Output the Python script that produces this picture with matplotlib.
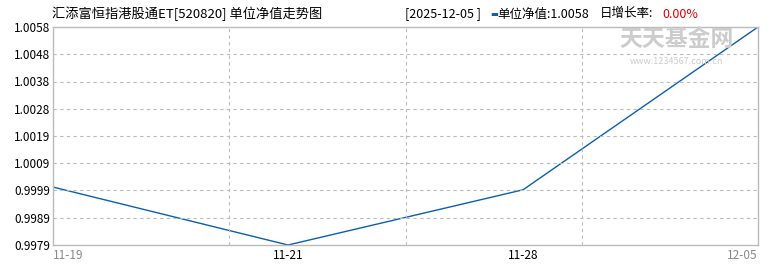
import matplotlib
matplotlib.use("Agg")
import matplotlib.pyplot as plt
import numpy as np

plt.rcParams['font.family'] = ['Noto Sans CJK SC', 'DejaVu Sans']

dates = ['11-19', '11-21', '11-28', '12-05']
nav = [1.0000, 0.9979, 0.9999, 1.0058]
date_colors = ['#888888', '#000000', '#000000', '#888888']

ymin, ymax = 0.9979, 1.0058
yticks = np.linspace(ymin, ymax, 9)

fig = plt.figure(figsize=(7.7, 2.7), dpi=100)
ax = fig.add_axes([53 / 770, 1 - 245 / 270, 705 / 770, 218 / 270])

x = np.arange(len(dates))
ax.plot(x, nav, color='#0a5fb0', linewidth=1.0)
ax.set_xlim(0, len(dates) - 1)
ax.set_ylim(ymin, ymax)

# vertical dashed grid splits plot in quarters
for gx in np.linspace(0, len(dates) - 1, 5)[1:-1]:
    ax.axvline(gx, color='#bbbbbb', linestyle=(0, (3, 3)), linewidth=0.8)
for gy in yticks[1:-1]:
    ax.axhline(gy, color='#bbbbbb', linestyle=(0, (3, 3)), linewidth=0.8)

ax.set_yticks(yticks)
ax.set_yticklabels([f'{v:.4f}' for v in yticks], fontsize=8.5)
ax.set_xticks(x)
ax.set_xticklabels(dates, fontsize=8.5)
for lbl, c in zip(ax.get_xticklabels(), date_colors):
    lbl.set_color(c)
ax.get_xticklabels()[0].set_horizontalalignment('left')
ax.get_xticklabels()[-1].set_horizontalalignment('right')
ax.tick_params(axis='both', length=0, pad=3)
ax.tick_params(axis='y', pad=2)
for s in ax.spines.values():
    s.set_color('#bbbbbb')
    s.set_linewidth(1.0)

# watermark
fig.text(676 / 770, 1 - 40 / 270, '天天基金网', fontsize=16.5, color='#cccccc',
         ha='center', va='center', fontweight='bold', zorder=0)
fig.text(676 / 770, 1 - 62 / 270, 'www.1234567.com.cn', fontsize=6.5, color='#cccccc',
         ha='center', va='center', zorder=0)

# header
fig.text(52 / 770, 1 - 14 / 270, '汇添富恒指港股通ET[520820] 单位净值走势图', fontsize=9.5,
         ha='left', va='center')
fig.text(405 / 770, 1 - 14 / 270, '[2025-12-05 ]', fontsize=9, ha='left', va='center')
fig.text(490 / 770, 1 - 14 / 270, '▬', fontsize=6, color='#0a5fb0', ha='left', va='center')
fig.text(497 / 770, 1 - 14 / 270, '单位净值:1.0058', fontsize=9, ha='left', va='center')
fig.text(600 / 770, 1 - 14 / 270, '日增长率:', fontsize=9, ha='left', va='center')
fig.text(662 / 770, 1 - 14 / 270, '0.00%', fontsize=9, color='#e00000', ha='left', va='center')

fig.savefig('out.png', dpi=100)
